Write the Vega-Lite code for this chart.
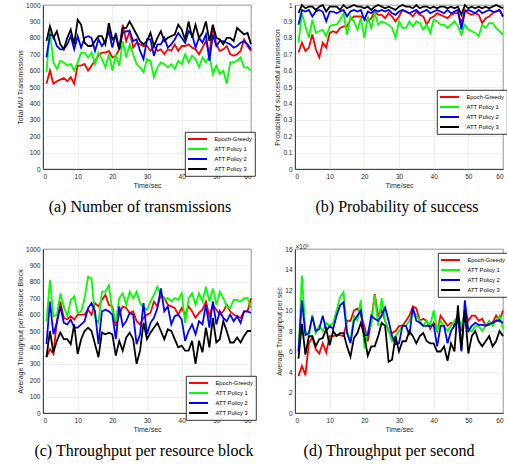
{
"$schema": "https://vega.github.io/schema/vega-lite/v6.json",
"padding": {"left": 15, "top": 1, "right": 0, "bottom": 0},
"config": {
 "font": "Liberation Sans",
 "view": {"stroke": "#262626", "strokeWidth": 0.8},
 "axis": {"labelFontSize": 6.5, "titleFontSize": 7, "labelColor": "#262626", "titleColor": "#262626", "titleFontWeight": "normal", "gridColor": "#e3e3e3", "gridWidth": 0.6, "domainColor": "#262626", "domainWidth": 0.8, "ticks": false, "titlePadding": 2.5},
 "axisX": {"labelPadding": 4, "titlePadding": 1.5},
 "axisY": {"labelPadding": 3},
 "title": {"orient": "bottom", "font": "Liberation Serif", "fontSize": 16, "fontWeight": "normal", "color": "#000000", "offset": 11, "frame": "group", "anchor": "middle"},
 "legend": {"symbolType": "M-3.17,0L3.17,0", "symbolSize": 36, "symbolStrokeWidth": 2, "symbolOffset": 5.5, "labelOffset": 13, "labelFontSize": 5.8, "labelColor": "#000000", "rowPadding": 2, "padding": 3, "strokeColor": "#000000", "strokeWidth": 0.8, "fillColor": "#ffffff"}
},
"datasets": {
"a": [
{"t":1,"Epoch-Greedy":520,"ATT Policy 1":590,"ATT Policy 2":680,"ATT Policy 3":780},
{"t":2,"Epoch-Greedy":600,"ATT Policy 1":840,"ATT Policy 2":820,"ATT Policy 3":870},
{"t":3,"Epoch-Greedy":520,"ATT Policy 1":650,"ATT Policy 2":810,"ATT Policy 3":800},
{"t":4,"Epoch-Greedy":535,"ATT Policy 1":610,"ATT Policy 2":750,"ATT Policy 3":840},
{"t":5,"Epoch-Greedy":545,"ATT Policy 1":660,"ATT Policy 2":730,"ATT Policy 3":760},
{"t":6,"Epoch-Greedy":555,"ATT Policy 1":650,"ATT Policy 2":730,"ATT Policy 3":730},
{"t":7,"Epoch-Greedy":535,"ATT Policy 1":630,"ATT Policy 2":760,"ATT Policy 3":800},
{"t":8,"Epoch-Greedy":560,"ATT Policy 1":640,"ATT Policy 2":810,"ATT Policy 3":850},
{"t":9,"Epoch-Greedy":520,"ATT Policy 1":600,"ATT Policy 2":730,"ATT Policy 3":760},
{"t":10,"Epoch-Greedy":630,"ATT Policy 1":650,"ATT Policy 2":810,"ATT Policy 3":910},
{"t":11,"Epoch-Greedy":630,"ATT Policy 1":710,"ATT Policy 2":740,"ATT Policy 3":880},
{"t":12,"Epoch-Greedy":640,"ATT Policy 1":710,"ATT Policy 2":800,"ATT Policy 3":770},
{"t":13,"Epoch-Greedy":600,"ATT Policy 1":680,"ATT Policy 2":810,"ATT Policy 3":750},
{"t":14,"Epoch-Greedy":630,"ATT Policy 1":710,"ATT Policy 2":800,"ATT Policy 3":750},
{"t":15,"Epoch-Greedy":660,"ATT Policy 1":640,"ATT Policy 2":720,"ATT Policy 3":780},
{"t":16,"Epoch-Greedy":690,"ATT Policy 1":710,"ATT Policy 2":790,"ATT Policy 3":810},
{"t":17,"Epoch-Greedy":710,"ATT Policy 1":670,"ATT Policy 2":750,"ATT Policy 3":810},
{"t":18,"Epoch-Greedy":710,"ATT Policy 1":620,"ATT Policy 2":780,"ATT Policy 3":760},
{"t":19,"Epoch-Greedy":720,"ATT Policy 1":700,"ATT Policy 2":840,"ATT Policy 3":890},
{"t":20,"Epoch-Greedy":680,"ATT Policy 1":600,"ATT Policy 2":740,"ATT Policy 3":790},
{"t":21,"Epoch-Greedy":690,"ATT Policy 1":700,"ATT Policy 2":830,"ATT Policy 3":810},
{"t":22,"Epoch-Greedy":730,"ATT Policy 1":630,"ATT Policy 2":730,"ATT Policy 3":730},
{"t":23,"Epoch-Greedy":880,"ATT Policy 1":780,"ATT Policy 2":830,"ATT Policy 3":860},
{"t":24,"Epoch-Greedy":780,"ATT Policy 1":680,"ATT Policy 2":840,"ATT Policy 3":860},
{"t":25,"Epoch-Greedy":840,"ATT Policy 1":760,"ATT Policy 2":840,"ATT Policy 3":900},
{"t":26,"Epoch-Greedy":740,"ATT Policy 1":700,"ATT Policy 2":780,"ATT Policy 3":860},
{"t":27,"Epoch-Greedy":770,"ATT Policy 1":640,"ATT Policy 2":790,"ATT Policy 3":820},
{"t":28,"Epoch-Greedy":760,"ATT Policy 1":620,"ATT Policy 2":720,"ATT Policy 3":780},
{"t":29,"Epoch-Greedy":750,"ATT Policy 1":590,"ATT Policy 2":670,"ATT Policy 3":760},
{"t":30,"Epoch-Greedy":750,"ATT Policy 1":670,"ATT Policy 2":790,"ATT Policy 3":780},
{"t":31,"Epoch-Greedy":720,"ATT Policy 1":660,"ATT Policy 2":790,"ATT Policy 3":830},
{"t":32,"Epoch-Greedy":750,"ATT Policy 1":560,"ATT Policy 2":690,"ATT Policy 3":750},
{"t":33,"Epoch-Greedy":720,"ATT Policy 1":620,"ATT Policy 2":760,"ATT Policy 3":800},
{"t":34,"Epoch-Greedy":730,"ATT Policy 1":650,"ATT Policy 2":760,"ATT Policy 3":840},
{"t":35,"Epoch-Greedy":700,"ATT Policy 1":640,"ATT Policy 2":800,"ATT Policy 3":780},
{"t":36,"Epoch-Greedy":730,"ATT Policy 1":620,"ATT Policy 2":740,"ATT Policy 3":800},
{"t":37,"Epoch-Greedy":720,"ATT Policy 1":640,"ATT Policy 2":760,"ATT Policy 3":810},
{"t":38,"Epoch-Greedy":760,"ATT Policy 1":610,"ATT Policy 2":790,"ATT Policy 3":820},
{"t":39,"Epoch-Greedy":720,"ATT Policy 1":660,"ATT Policy 2":830,"ATT Policy 3":880},
{"t":40,"Epoch-Greedy":750,"ATT Policy 1":640,"ATT Policy 2":800,"ATT Policy 3":850},
{"t":41,"Epoch-Greedy":750,"ATT Policy 1":700,"ATT Policy 2":770,"ATT Policy 3":790},
{"t":42,"Epoch-Greedy":760,"ATT Policy 1":650,"ATT Policy 2":840,"ATT Policy 3":900},
{"t":43,"Epoch-Greedy":740,"ATT Policy 1":690,"ATT Policy 2":820,"ATT Policy 3":800},
{"t":44,"Epoch-Greedy":730,"ATT Policy 1":670,"ATT Policy 2":740,"ATT Policy 3":880},
{"t":45,"Epoch-Greedy":700,"ATT Policy 1":620,"ATT Policy 2":800,"ATT Policy 3":800},
{"t":46,"Epoch-Greedy":740,"ATT Policy 1":680,"ATT Policy 2":770,"ATT Policy 3":830},
{"t":47,"Epoch-Greedy":780,"ATT Policy 1":650,"ATT Policy 2":820,"ATT Policy 3":900},
{"t":48,"Epoch-Greedy":700,"ATT Policy 1":690,"ATT Policy 2":660,"ATT Policy 3":780},
{"t":49,"Epoch-Greedy":870,"ATT Policy 1":580,"ATT Policy 2":820,"ATT Policy 3":880},
{"t":50,"Epoch-Greedy":760,"ATT Policy 1":630,"ATT Policy 2":750,"ATT Policy 3":800},
{"t":51,"Epoch-Greedy":720,"ATT Policy 1":580,"ATT Policy 2":780,"ATT Policy 3":790},
{"t":52,"Epoch-Greedy":730,"ATT Policy 1":600,"ATT Policy 2":780,"ATT Policy 3":760},
{"t":53,"Epoch-Greedy":750,"ATT Policy 1":520,"ATT Policy 2":770,"ATT Policy 3":800},
{"t":54,"Epoch-Greedy":700,"ATT Policy 1":650,"ATT Policy 2":760,"ATT Policy 3":800},
{"t":55,"Epoch-Greedy":690,"ATT Policy 1":650,"ATT Policy 2":740,"ATT Policy 3":780},
{"t":56,"Epoch-Greedy":700,"ATT Policy 1":660,"ATT Policy 2":750,"ATT Policy 3":860},
{"t":57,"Epoch-Greedy":720,"ATT Policy 1":680,"ATT Policy 2":770,"ATT Policy 3":840},
{"t":58,"Epoch-Greedy":790,"ATT Policy 1":620,"ATT Policy 2":780,"ATT Policy 3":820},
{"t":59,"Epoch-Greedy":750,"ATT Policy 1":620,"ATT Policy 2":760,"ATT Policy 3":830},
{"t":60,"Epoch-Greedy":720,"ATT Policy 1":600,"ATT Policy 2":730,"ATT Policy 3":760}
],
"b": [
{"t":1,"Epoch-Greedy":0.71,"ATT Policy 1":0.77,"ATT Policy 2":0.88,"ATT Policy 3":0.95},
{"t":2,"Epoch-Greedy":0.77,"ATT Policy 1":0.95,"ATT Policy 2":0.97,"ATT Policy 3":1.0},
{"t":3,"Epoch-Greedy":0.72,"ATT Policy 1":0.87,"ATT Policy 2":0.96,"ATT Policy 3":0.98},
{"t":4,"Epoch-Greedy":0.74,"ATT Policy 1":0.80,"ATT Policy 2":0.97,"ATT Policy 3":0.99},
{"t":5,"Epoch-Greedy":0.82,"ATT Policy 1":0.91,"ATT Policy 2":0.93,"ATT Policy 3":0.99},
{"t":6,"Epoch-Greedy":0.73,"ATT Policy 1":0.83,"ATT Policy 2":0.96,"ATT Policy 3":0.97},
{"t":7,"Epoch-Greedy":0.68,"ATT Policy 1":0.84,"ATT Policy 2":0.97,"ATT Policy 3":0.99},
{"t":8,"Epoch-Greedy":0.77,"ATT Policy 1":0.85,"ATT Policy 2":0.96,"ATT Policy 3":1.0},
{"t":9,"Epoch-Greedy":0.74,"ATT Policy 1":0.81,"ATT Policy 2":0.90,"ATT Policy 3":0.96},
{"t":10,"Epoch-Greedy":0.83,"ATT Policy 1":0.87,"ATT Policy 2":0.96,"ATT Policy 3":0.99},
{"t":11,"Epoch-Greedy":0.84,"ATT Policy 1":0.88,"ATT Policy 2":0.96,"ATT Policy 3":0.99},
{"t":12,"Epoch-Greedy":0.83,"ATT Policy 1":0.88,"ATT Policy 2":0.95,"ATT Policy 3":0.99},
{"t":13,"Epoch-Greedy":0.86,"ATT Policy 1":0.91,"ATT Policy 2":0.96,"ATT Policy 3":0.97},
{"t":14,"Epoch-Greedy":0.87,"ATT Policy 1":0.95,"ATT Policy 2":0.97,"ATT Policy 3":1.0},
{"t":15,"Epoch-Greedy":0.87,"ATT Policy 1":0.82,"ATT Policy 2":0.93,"ATT Policy 3":0.98},
{"t":16,"Epoch-Greedy":0.91,"ATT Policy 1":0.93,"ATT Policy 2":0.96,"ATT Policy 3":0.99},
{"t":17,"Epoch-Greedy":0.93,"ATT Policy 1":0.90,"ATT Policy 2":0.97,"ATT Policy 3":1.0},
{"t":18,"Epoch-Greedy":0.93,"ATT Policy 1":0.85,"ATT Policy 2":0.96,"ATT Policy 3":0.99},
{"t":19,"Epoch-Greedy":0.93,"ATT Policy 1":0.92,"ATT Policy 2":0.97,"ATT Policy 3":0.99},
{"t":20,"Epoch-Greedy":0.92,"ATT Policy 1":0.80,"ATT Policy 2":0.91,"ATT Policy 3":0.98},
{"t":21,"Epoch-Greedy":0.90,"ATT Policy 1":0.93,"ATT Policy 2":0.96,"ATT Policy 3":0.99},
{"t":22,"Epoch-Greedy":0.92,"ATT Policy 1":0.86,"ATT Policy 2":0.95,"ATT Policy 3":0.97},
{"t":23,"Epoch-Greedy":0.96,"ATT Policy 1":0.95,"ATT Policy 2":0.97,"ATT Policy 3":0.99},
{"t":24,"Epoch-Greedy":0.94,"ATT Policy 1":0.88,"ATT Policy 2":0.96,"ATT Policy 3":1.0},
{"t":25,"Epoch-Greedy":0.94,"ATT Policy 1":0.90,"ATT Policy 2":0.97,"ATT Policy 3":0.99},
{"t":26,"Epoch-Greedy":0.92,"ATT Policy 1":0.89,"ATT Policy 2":0.96,"ATT Policy 3":0.98},
{"t":27,"Epoch-Greedy":0.95,"ATT Policy 1":0.88,"ATT Policy 2":0.97,"ATT Policy 3":0.99},
{"t":28,"Epoch-Greedy":0.93,"ATT Policy 1":0.86,"ATT Policy 2":0.95,"ATT Policy 3":0.98},
{"t":29,"Epoch-Greedy":0.90,"ATT Policy 1":0.80,"ATT Policy 2":0.94,"ATT Policy 3":0.97},
{"t":30,"Epoch-Greedy":0.93,"ATT Policy 1":0.90,"ATT Policy 2":0.96,"ATT Policy 3":0.99},
{"t":31,"Epoch-Greedy":0.97,"ATT Policy 1":0.86,"ATT Policy 2":0.97,"ATT Policy 3":1.0},
{"t":32,"Epoch-Greedy":0.96,"ATT Policy 1":0.86,"ATT Policy 2":0.96,"ATT Policy 3":0.99},
{"t":33,"Epoch-Greedy":0.95,"ATT Policy 1":0.90,"ATT Policy 2":0.95,"ATT Policy 3":0.99},
{"t":34,"Epoch-Greedy":0.93,"ATT Policy 1":0.87,"ATT Policy 2":0.96,"ATT Policy 3":0.98},
{"t":35,"Epoch-Greedy":0.96,"ATT Policy 1":0.90,"ATT Policy 2":0.97,"ATT Policy 3":1.0},
{"t":36,"Epoch-Greedy":0.94,"ATT Policy 1":0.89,"ATT Policy 2":0.95,"ATT Policy 3":0.98},
{"t":37,"Epoch-Greedy":0.93,"ATT Policy 1":0.85,"ATT Policy 2":0.96,"ATT Policy 3":0.99},
{"t":38,"Epoch-Greedy":0.88,"ATT Policy 1":0.88,"ATT Policy 2":0.97,"ATT Policy 3":0.99},
{"t":39,"Epoch-Greedy":0.92,"ATT Policy 1":0.83,"ATT Policy 2":0.95,"ATT Policy 3":0.98},
{"t":40,"Epoch-Greedy":0.93,"ATT Policy 1":0.91,"ATT Policy 2":0.96,"ATT Policy 3":0.99},
{"t":41,"Epoch-Greedy":0.95,"ATT Policy 1":0.90,"ATT Policy 2":0.97,"ATT Policy 3":0.98},
{"t":42,"Epoch-Greedy":0.94,"ATT Policy 1":0.88,"ATT Policy 2":0.96,"ATT Policy 3":0.99},
{"t":43,"Epoch-Greedy":0.93,"ATT Policy 1":0.88,"ATT Policy 2":0.95,"ATT Policy 3":0.99},
{"t":44,"Epoch-Greedy":0.92,"ATT Policy 1":0.86,"ATT Policy 2":0.97,"ATT Policy 3":0.98},
{"t":45,"Epoch-Greedy":0.94,"ATT Policy 1":0.88,"ATT Policy 2":0.95,"ATT Policy 3":0.99},
{"t":46,"Epoch-Greedy":0.95,"ATT Policy 1":0.90,"ATT Policy 2":0.96,"ATT Policy 3":0.98},
{"t":47,"Epoch-Greedy":0.95,"ATT Policy 1":0.87,"ATT Policy 2":0.97,"ATT Policy 3":0.99},
{"t":48,"Epoch-Greedy":0.89,"ATT Policy 1":0.82,"ATT Policy 2":0.85,"ATT Policy 3":0.94},
{"t":49,"Epoch-Greedy":0.97,"ATT Policy 1":0.88,"ATT Policy 2":0.96,"ATT Policy 3":1.0},
{"t":50,"Epoch-Greedy":0.95,"ATT Policy 1":0.85,"ATT Policy 2":0.97,"ATT Policy 3":0.98},
{"t":51,"Epoch-Greedy":0.94,"ATT Policy 1":0.84,"ATT Policy 2":0.96,"ATT Policy 3":0.99},
{"t":52,"Epoch-Greedy":0.95,"ATT Policy 1":0.83,"ATT Policy 2":0.95,"ATT Policy 3":0.98},
{"t":53,"Epoch-Greedy":0.94,"ATT Policy 1":0.81,"ATT Policy 2":0.97,"ATT Policy 3":0.99},
{"t":54,"Epoch-Greedy":0.89,"ATT Policy 1":0.88,"ATT Policy 2":0.95,"ATT Policy 3":0.98},
{"t":55,"Epoch-Greedy":0.92,"ATT Policy 1":0.86,"ATT Policy 2":0.96,"ATT Policy 3":0.99},
{"t":56,"Epoch-Greedy":0.93,"ATT Policy 1":0.89,"ATT Policy 2":0.97,"ATT Policy 3":0.98},
{"t":57,"Epoch-Greedy":0.95,"ATT Policy 1":0.89,"ATT Policy 2":0.96,"ATT Policy 3":0.99},
{"t":58,"Epoch-Greedy":0.96,"ATT Policy 1":0.86,"ATT Policy 2":0.96,"ATT Policy 3":1.0},
{"t":59,"Epoch-Greedy":0.97,"ATT Policy 1":0.84,"ATT Policy 2":0.97,"ATT Policy 3":0.99},
{"t":60,"Epoch-Greedy":0.93,"ATT Policy 1":0.82,"ATT Policy 2":0.93,"ATT Policy 3":0.98}
],
"c": [
{"t":1,"Epoch-Greedy":340,"ATT Policy 1":560,"ATT Policy 2":420,"ATT Policy 3":340},
{"t":2,"Epoch-Greedy":390,"ATT Policy 1":810,"ATT Policy 2":680,"ATT Policy 3":500},
{"t":3,"Epoch-Greedy":360,"ATT Policy 1":590,"ATT Policy 2":480,"ATT Policy 3":370},
{"t":4,"Epoch-Greedy":560,"ATT Policy 1":600,"ATT Policy 2":550,"ATT Policy 3":440},
{"t":5,"Epoch-Greedy":680,"ATT Policy 1":730,"ATT Policy 2":650,"ATT Policy 3":490},
{"t":6,"Epoch-Greedy":580,"ATT Policy 1":650,"ATT Policy 2":550,"ATT Policy 3":450},
{"t":7,"Epoch-Greedy":570,"ATT Policy 1":590,"ATT Policy 2":540,"ATT Policy 3":450},
{"t":8,"Epoch-Greedy":590,"ATT Policy 1":690,"ATT Policy 2":570,"ATT Policy 3":420},
{"t":9,"Epoch-Greedy":570,"ATT Policy 1":710,"ATT Policy 2":520,"ATT Policy 3":540},
{"t":10,"Epoch-Greedy":600,"ATT Policy 1":610,"ATT Policy 2":520,"ATT Policy 3":360},
{"t":11,"Epoch-Greedy":600,"ATT Policy 1":620,"ATT Policy 2":540,"ATT Policy 3":450},
{"t":12,"Epoch-Greedy":600,"ATT Policy 1":700,"ATT Policy 2":560,"ATT Policy 3":500},
{"t":13,"Epoch-Greedy":630,"ATT Policy 1":830,"ATT Policy 2":640,"ATT Policy 3":520},
{"t":14,"Epoch-Greedy":600,"ATT Policy 1":820,"ATT Policy 2":670,"ATT Policy 3":500},
{"t":15,"Epoch-Greedy":670,"ATT Policy 1":580,"ATT Policy 2":620,"ATT Policy 3":420},
{"t":16,"Epoch-Greedy":650,"ATT Policy 1":550,"ATT Policy 2":420,"ATT Policy 3":340},
{"t":17,"Epoch-Greedy":690,"ATT Policy 1":740,"ATT Policy 2":620,"ATT Policy 3":490},
{"t":18,"Epoch-Greedy":720,"ATT Policy 1":740,"ATT Policy 2":630,"ATT Policy 3":480},
{"t":19,"Epoch-Greedy":660,"ATT Policy 1":780,"ATT Policy 2":620,"ATT Policy 3":490},
{"t":20,"Epoch-Greedy":650,"ATT Policy 1":620,"ATT Policy 2":600,"ATT Policy 3":480},
{"t":21,"Epoch-Greedy":530,"ATT Policy 1":560,"ATT Policy 2":450,"ATT Policy 3":350},
{"t":22,"Epoch-Greedy":600,"ATT Policy 1":700,"ATT Policy 2":650,"ATT Policy 3":440},
{"t":23,"Epoch-Greedy":650,"ATT Policy 1":730,"ATT Policy 2":530,"ATT Policy 3":380},
{"t":24,"Epoch-Greedy":640,"ATT Policy 1":660,"ATT Policy 2":560,"ATT Policy 3":460},
{"t":25,"Epoch-Greedy":610,"ATT Policy 1":740,"ATT Policy 2":610,"ATT Policy 3":490},
{"t":26,"Epoch-Greedy":620,"ATT Policy 1":700,"ATT Policy 2":600,"ATT Policy 3":450},
{"t":27,"Epoch-Greedy":560,"ATT Policy 1":740,"ATT Policy 2":420,"ATT Policy 3":300},
{"t":28,"Epoch-Greedy":540,"ATT Policy 1":670,"ATT Policy 2":480,"ATT Policy 3":380},
{"t":29,"Epoch-Greedy":580,"ATT Policy 1":640,"ATT Policy 2":670,"ATT Policy 3":550},
{"t":30,"Epoch-Greedy":600,"ATT Policy 1":630,"ATT Policy 2":480,"ATT Policy 3":450},
{"t":31,"Epoch-Greedy":610,"ATT Policy 1":680,"ATT Policy 2":550,"ATT Policy 3":490},
{"t":32,"Epoch-Greedy":680,"ATT Policy 1":720,"ATT Policy 2":580,"ATT Policy 3":520},
{"t":33,"Epoch-Greedy":650,"ATT Policy 1":770,"ATT Policy 2":640,"ATT Policy 3":550},
{"t":34,"Epoch-Greedy":720,"ATT Policy 1":720,"ATT Policy 2":760,"ATT Policy 3":500},
{"t":35,"Epoch-Greedy":700,"ATT Policy 1":690,"ATT Policy 2":620,"ATT Policy 3":450},
{"t":36,"Epoch-Greedy":660,"ATT Policy 1":700,"ATT Policy 2":650,"ATT Policy 3":510},
{"t":37,"Epoch-Greedy":650,"ATT Policy 1":680,"ATT Policy 2":540,"ATT Policy 3":500},
{"t":38,"Epoch-Greedy":640,"ATT Policy 1":700,"ATT Policy 2":590,"ATT Policy 3":450},
{"t":39,"Epoch-Greedy":600,"ATT Policy 1":690,"ATT Policy 2":600,"ATT Policy 3":400},
{"t":40,"Epoch-Greedy":640,"ATT Policy 1":730,"ATT Policy 2":570,"ATT Policy 3":410},
{"t":41,"Epoch-Greedy":600,"ATT Policy 1":550,"ATT Policy 2":440,"ATT Policy 3":380},
{"t":42,"Epoch-Greedy":650,"ATT Policy 1":700,"ATT Policy 2":500,"ATT Policy 3":380},
{"t":43,"Epoch-Greedy":620,"ATT Policy 1":730,"ATT Policy 2":540,"ATT Policy 3":440},
{"t":44,"Epoch-Greedy":580,"ATT Policy 1":660,"ATT Policy 2":480,"ATT Policy 3":300},
{"t":45,"Epoch-Greedy":610,"ATT Policy 1":730,"ATT Policy 2":560,"ATT Policy 3":440},
{"t":46,"Epoch-Greedy":630,"ATT Policy 1":680,"ATT Policy 2":540,"ATT Policy 3":370},
{"t":47,"Epoch-Greedy":680,"ATT Policy 1":770,"ATT Policy 2":660,"ATT Policy 3":520},
{"t":48,"Epoch-Greedy":590,"ATT Policy 1":680,"ATT Policy 2":520,"ATT Policy 3":400},
{"t":49,"Epoch-Greedy":660,"ATT Policy 1":760,"ATT Policy 2":680,"ATT Policy 3":580},
{"t":50,"Epoch-Greedy":630,"ATT Policy 1":660,"ATT Policy 2":540,"ATT Policy 3":430},
{"t":51,"Epoch-Greedy":600,"ATT Policy 1":740,"ATT Policy 2":620,"ATT Policy 3":450},
{"t":52,"Epoch-Greedy":620,"ATT Policy 1":700,"ATT Policy 2":580,"ATT Policy 3":560},
{"t":53,"Epoch-Greedy":660,"ATT Policy 1":650,"ATT Policy 2":560,"ATT Policy 3":500},
{"t":54,"Epoch-Greedy":620,"ATT Policy 1":640,"ATT Policy 2":600,"ATT Policy 3":430},
{"t":55,"Epoch-Greedy":600,"ATT Policy 1":690,"ATT Policy 2":560,"ATT Policy 3":430},
{"t":56,"Epoch-Greedy":590,"ATT Policy 1":690,"ATT Policy 2":590,"ATT Policy 3":460},
{"t":57,"Epoch-Greedy":580,"ATT Policy 1":680,"ATT Policy 2":550,"ATT Policy 3":430},
{"t":58,"Epoch-Greedy":620,"ATT Policy 1":700,"ATT Policy 2":620,"ATT Policy 3":470},
{"t":59,"Epoch-Greedy":620,"ATT Policy 1":700,"ATT Policy 2":620,"ATT Policy 3":500},
{"t":60,"Epoch-Greedy":700,"ATT Policy 1":640,"ATT Policy 2":610,"ATT Policy 3":500}
],
"d": [
{"t":1,"Epoch-Greedy":3.6,"ATT Policy 1":6.0,"ATT Policy 2":6.0,"ATT Policy 3":5.3},
{"t":2,"Epoch-Greedy":4.6,"ATT Policy 1":13.4,"ATT Policy 2":11.0,"ATT Policy 3":8.7},
{"t":3,"Epoch-Greedy":3.7,"ATT Policy 1":8.0,"ATT Policy 2":7.6,"ATT Policy 3":5.7},
{"t":4,"Epoch-Greedy":6.8,"ATT Policy 1":7.5,"ATT Policy 2":7.8,"ATT Policy 3":7.5},
{"t":5,"Epoch-Greedy":7.4,"ATT Policy 1":9.6,"ATT Policy 2":9.4,"ATT Policy 3":7.5},
{"t":6,"Epoch-Greedy":6.2,"ATT Policy 1":7.8,"ATT Policy 2":8.0,"ATT Policy 3":6.5},
{"t":7,"Epoch-Greedy":5.8,"ATT Policy 1":8.5,"ATT Policy 2":8.2,"ATT Policy 3":7.2},
{"t":8,"Epoch-Greedy":6.8,"ATT Policy 1":8.0,"ATT Policy 2":9.5,"ATT Policy 3":7.3},
{"t":9,"Epoch-Greedy":5.9,"ATT Policy 1":8.8,"ATT Policy 2":8.0,"ATT Policy 3":8.2},
{"t":10,"Epoch-Greedy":7.5,"ATT Policy 1":8.5,"ATT Policy 2":8.5,"ATT Policy 3":6.6},
{"t":11,"Epoch-Greedy":7.5,"ATT Policy 1":8.8,"ATT Policy 2":8.2,"ATT Policy 3":8.0},
{"t":12,"Epoch-Greedy":7.6,"ATT Policy 1":10.0,"ATT Policy 2":9.5,"ATT Policy 3":7.5},
{"t":13,"Epoch-Greedy":7.6,"ATT Policy 1":11.3,"ATT Policy 2":10.5,"ATT Policy 3":7.8},
{"t":14,"Epoch-Greedy":7.5,"ATT Policy 1":11.8,"ATT Policy 2":10.8,"ATT Policy 3":7.8},
{"t":15,"Epoch-Greedy":9.0,"ATT Policy 1":8.0,"ATT Policy 2":7.8,"ATT Policy 3":6.5},
{"t":16,"Epoch-Greedy":9.0,"ATT Policy 1":7.0,"ATT Policy 2":6.8,"ATT Policy 3":5.5},
{"t":17,"Epoch-Greedy":10.0,"ATT Policy 1":9.5,"ATT Policy 2":9.0,"ATT Policy 3":7.3},
{"t":18,"Epoch-Greedy":10.2,"ATT Policy 1":9.0,"ATT Policy 2":9.5,"ATT Policy 3":7.8},
{"t":19,"Epoch-Greedy":9.5,"ATT Policy 1":11.0,"ATT Policy 2":10.0,"ATT Policy 3":8.8},
{"t":20,"Epoch-Greedy":8.5,"ATT Policy 1":6.3,"ATT Policy 2":7.6,"ATT Policy 3":7.5},
{"t":21,"Epoch-Greedy":7.0,"ATT Policy 1":8.0,"ATT Policy 2":7.6,"ATT Policy 3":5.6},
{"t":22,"Epoch-Greedy":9.0,"ATT Policy 1":8.5,"ATT Policy 2":9.5,"ATT Policy 3":6.5},
{"t":23,"Epoch-Greedy":11.6,"ATT Policy 1":11.5,"ATT Policy 2":9.2,"ATT Policy 3":6.5},
{"t":24,"Epoch-Greedy":9.5,"ATT Policy 1":8.5,"ATT Policy 2":9.0,"ATT Policy 3":7.5},
{"t":25,"Epoch-Greedy":10.0,"ATT Policy 1":11.2,"ATT Policy 2":9.5,"ATT Policy 3":8.8},
{"t":26,"Epoch-Greedy":9.0,"ATT Policy 1":9.0,"ATT Policy 2":10.3,"ATT Policy 3":8.5},
{"t":27,"Epoch-Greedy":8.0,"ATT Policy 1":8.0,"ATT Policy 2":9.0,"ATT Policy 3":5.0},
{"t":28,"Epoch-Greedy":7.8,"ATT Policy 1":7.0,"ATT Policy 2":7.5,"ATT Policy 3":5.2},
{"t":29,"Epoch-Greedy":8.0,"ATT Policy 1":7.5,"ATT Policy 2":6.7,"ATT Policy 3":7.5},
{"t":30,"Epoch-Greedy":8.5,"ATT Policy 1":8.0,"ATT Policy 2":6.8,"ATT Policy 3":6.0},
{"t":31,"Epoch-Greedy":8.5,"ATT Policy 1":8.5,"ATT Policy 2":8.5,"ATT Policy 3":7.0},
{"t":32,"Epoch-Greedy":9.0,"ATT Policy 1":8.5,"ATT Policy 2":8.5,"ATT Policy 3":7.0},
{"t":33,"Epoch-Greedy":9.5,"ATT Policy 1":9.0,"ATT Policy 2":7.6,"ATT Policy 3":8.0},
{"t":34,"Epoch-Greedy":10.4,"ATT Policy 1":10.0,"ATT Policy 2":10.3,"ATT Policy 3":7.5},
{"t":35,"Epoch-Greedy":10.2,"ATT Policy 1":9.5,"ATT Policy 2":9.0,"ATT Policy 3":6.8},
{"t":36,"Epoch-Greedy":9.0,"ATT Policy 1":9.0,"ATT Policy 2":8.8,"ATT Policy 3":7.5},
{"t":37,"Epoch-Greedy":9.2,"ATT Policy 1":8.5,"ATT Policy 2":8.5,"ATT Policy 3":7.8},
{"t":38,"Epoch-Greedy":9.0,"ATT Policy 1":9.0,"ATT Policy 2":8.5,"ATT Policy 3":7.0},
{"t":39,"Epoch-Greedy":8.2,"ATT Policy 1":8.5,"ATT Policy 2":8.5,"ATT Policy 3":6.8},
{"t":40,"Epoch-Greedy":8.8,"ATT Policy 1":10.0,"ATT Policy 2":8.6,"ATT Policy 3":6.8},
{"t":41,"Epoch-Greedy":8.0,"ATT Policy 1":8.0,"ATT Policy 2":6.5,"ATT Policy 3":6.0},
{"t":42,"Epoch-Greedy":9.5,"ATT Policy 1":9.0,"ATT Policy 2":8.5,"ATT Policy 3":6.0},
{"t":43,"Epoch-Greedy":9.0,"ATT Policy 1":8.5,"ATT Policy 2":8.5,"ATT Policy 3":6.5},
{"t":44,"Epoch-Greedy":8.5,"ATT Policy 1":8.0,"ATT Policy 2":6.8,"ATT Policy 3":5.1},
{"t":45,"Epoch-Greedy":8.8,"ATT Policy 1":8.5,"ATT Policy 2":8.0,"ATT Policy 3":6.8},
{"t":46,"Epoch-Greedy":8.5,"ATT Policy 1":9.0,"ATT Policy 2":8.5,"ATT Policy 3":6.0},
{"t":47,"Epoch-Greedy":9.0,"ATT Policy 1":9.5,"ATT Policy 2":9.5,"ATT Policy 3":10.5},
{"t":48,"Epoch-Greedy":8.0,"ATT Policy 1":8.5,"ATT Policy 2":6.0,"ATT Policy 3":6.2},
{"t":49,"Epoch-Greedy":10.0,"ATT Policy 1":9.5,"ATT Policy 2":11.0,"ATT Policy 3":10.0},
{"t":50,"Epoch-Greedy":9.0,"ATT Policy 1":8.0,"ATT Policy 2":8.0,"ATT Policy 3":5.8},
{"t":51,"Epoch-Greedy":9.5,"ATT Policy 1":8.0,"ATT Policy 2":8.5,"ATT Policy 3":7.5},
{"t":52,"Epoch-Greedy":9.5,"ATT Policy 1":8.5,"ATT Policy 2":8.8,"ATT Policy 3":8.0},
{"t":53,"Epoch-Greedy":9.0,"ATT Policy 1":8.5,"ATT Policy 2":8.6,"ATT Policy 3":7.0},
{"t":54,"Epoch-Greedy":9.2,"ATT Policy 1":8.0,"ATT Policy 2":8.6,"ATT Policy 3":6.5},
{"t":55,"Epoch-Greedy":8.5,"ATT Policy 1":8.5,"ATT Policy 2":8.5,"ATT Policy 3":7.0},
{"t":56,"Epoch-Greedy":8.6,"ATT Policy 1":9.0,"ATT Policy 2":8.7,"ATT Policy 3":7.5},
{"t":57,"Epoch-Greedy":8.8,"ATT Policy 1":8.5,"ATT Policy 2":8.8,"ATT Policy 3":6.5},
{"t":58,"Epoch-Greedy":9.5,"ATT Policy 1":9.0,"ATT Policy 2":9.0,"ATT Policy 3":7.0},
{"t":59,"Epoch-Greedy":9.0,"ATT Policy 1":9.5,"ATT Policy 2":9.0,"ATT Policy 3":8.0},
{"t":60,"Epoch-Greedy":10.0,"ATT Policy 1":8.2,"ATT Policy 2":8.8,"ATT Policy 3":7.5}
]
},
"columns": 2,
"spacing": {"row": 80, "column": 44},
"bounds": "flush",
"resolve": {"scale": {"color": "independent", "x": "independent", "y": "independent"}, "legend": {"color": "independent"}, "axis": {"x": "independent", "y": "independent"}},
"concat": [
{
 "data": {"name": "a"}, "width": 208, "height": 164,
 "title": {"text": "(a) Number of transmissions", "dx": -7},
 "transform": [{"fold": ["Epoch-Greedy", "ATT Policy 1", "ATT Policy 2", "ATT Policy 3"], "as": ["series", "v"]}],
 "mark": {"type": "line", "strokeWidth": 1.8},
 "encoding": {
  "x": {"field": "t", "type": "quantitative", "scale": {"domain": [0, 60], "nice": false}, "axis": {"title": "Time/sec", "tickCount": 6}},
  "y": {"field": "v", "type": "quantitative", "scale": {"domain": [0, 1000], "nice": false}, "axis": {"title": "Total MU Transmissions", "tickCount": 10, "format": "d"}},
  "color": {"field": "series", "type": "nominal", "scale": {"domain": ["Epoch-Greedy", "ATT Policy 1", "ATT Policy 2", "ATT Policy 3"], "range": ["#ff0000", "#00ff00", "#0000ff", "#000000"]}, "legend": {"title": null, "orient": "none", "legendX": 142, "legendY": 127}}
 }
},
{
 "data": {"name": "b"}, "width": 208, "height": 164,
 "title": {"text": "(b) Probability of success", "dx": -2},
 "transform": [{"fold": ["Epoch-Greedy", "ATT Policy 1", "ATT Policy 2", "ATT Policy 3"], "as": ["series", "v"]}],
 "mark": {"type": "line", "strokeWidth": 1.8},
 "encoding": {
  "x": {"field": "t", "type": "quantitative", "scale": {"domain": [0, 60], "nice": false}, "axis": {"title": "Time/sec", "tickCount": 6}},
  "y": {"field": "v", "type": "quantitative", "scale": {"domain": [0, 1], "nice": false}, "axis": {"title": "Probability of successful transmission", "tickCount": 10, "format": "~g"}},
  "color": {"field": "series", "type": "nominal", "scale": {"domain": ["Epoch-Greedy", "ATT Policy 1", "ATT Policy 2", "ATT Policy 3"], "range": ["#ff0000", "#00ff00", "#0000ff", "#000000"]}, "legend": {"title": null, "orient": "none", "legendX": 142, "legendY": 85}}
 }
},
{
 "data": {"name": "c"}, "width": 208, "height": 164,
 "title": {"text": "(c) Throughput per resource block", "dx": -3},
 "transform": [{"fold": ["Epoch-Greedy", "ATT Policy 1", "ATT Policy 2", "ATT Policy 3"], "as": ["series", "v"]}],
 "mark": {"type": "line", "strokeWidth": 1.8},
 "encoding": {
  "x": {"field": "t", "type": "quantitative", "scale": {"domain": [0, 60], "nice": false}, "axis": {"title": "Time/sec", "tickCount": 6}},
  "y": {"field": "v", "type": "quantitative", "scale": {"domain": [0, 1000], "nice": false}, "axis": {"title": "Average Throughput per Resouce Block", "tickCount": 10, "format": "d"}},
  "color": {"field": "series", "type": "nominal", "scale": {"domain": ["Epoch-Greedy", "ATT Policy 1", "ATT Policy 2", "ATT Policy 3"], "range": ["#ff0000", "#00ff00", "#0000ff", "#000000"]}, "legend": {"title": null, "orient": "none", "legendX": 143, "legendY": 127}}
 }
},
{
 "data": {"name": "d"}, "width": 208, "height": 164,
 "title": {"text": "(d) Throughput per second", "dx": -10},
 "transform": [{"fold": ["Epoch-Greedy", "ATT Policy 1", "ATT Policy 2", "ATT Policy 3"], "as": ["series", "v"]}],
 "layer": [
  {
   "mark": {"type": "line", "strokeWidth": 1.8},
   "encoding": {
    "x": {"field": "t", "type": "quantitative", "scale": {"domain": [0, 60], "nice": false}, "axis": {"title": "Time/sec", "tickCount": 6}},
    "y": {"field": "v", "type": "quantitative", "scale": {"domain": [0, 16], "nice": false}, "axis": {"title": "Average Throughput per sec", "tickCount": 8, "format": "d"}},
    "color": {"field": "series", "type": "nominal", "scale": {"domain": ["Epoch-Greedy", "ATT Policy 1", "ATT Policy 2", "ATT Policy 3"], "range": ["#ff0000", "#00ff00", "#0000ff", "#000000"]}, "legend": {"title": null, "orient": "none", "legendX": 143, "legendY": 4}}
   }
  },
  {
   "mark": {"type": "point", "opacity": 0},
   "encoding": {
    "x": {"field": "t", "type": "quantitative", "axis": {"orient": "top", "title": "×10⁵", "labels": false, "ticks": false, "domain": false, "grid": false, "titleAngle": 0, "titleX": 0, "titleY": -3, "titleAlign": "left", "titleBaseline": "middle", "titleFontSize": 6.5}},
    "y": {"field": "v", "type": "quantitative"}
   }
  }
 ],
 "resolve": {"axis": {"x": "independent"}}
}
]
}
